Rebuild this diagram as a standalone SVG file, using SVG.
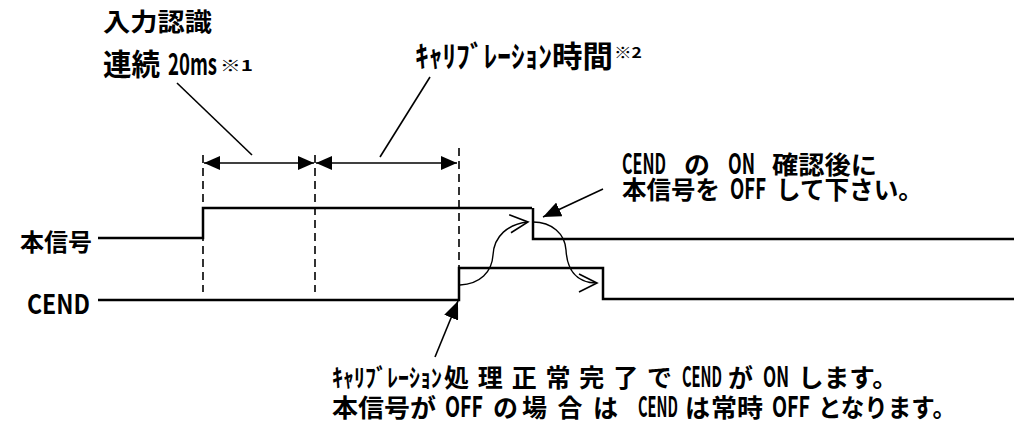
<svg xmlns="http://www.w3.org/2000/svg" width="1014" height="432" viewBox="0 0 1014 432">
<style>
.t{font-family:"Noto Sans CJK JP","Liberation Sans",sans-serif;font-weight:700;fill:#000}
.a{font-size:28px}
.sig{fill:none;stroke:#000;stroke-width:2.5;stroke-linejoin:miter}
.dash{fill:none;stroke:#000;stroke-width:1.6;stroke-dasharray:8 5}
.ln{fill:none;stroke:#000;stroke-width:1.6}
.cv{fill:none;stroke:#000;stroke-width:1.4}
</style>
<defs>
<marker id="fa" markerUnits="userSpaceOnUse" markerWidth="16" markerHeight="14" refX="16" refY="7" orient="auto-start-reverse">
<path d="M0,0 L16,7 L0,14 z" fill="#000"/>
</marker>
<marker id="fb" markerUnits="userSpaceOnUse" markerWidth="18" markerHeight="15" refX="18" refY="7.5" orient="auto">
<path d="M0,0 L18,7.5 L0,15 z" fill="#000"/>
</marker>
<marker id="oa" markerUnits="userSpaceOnUse" markerWidth="22" markerHeight="22" refX="19" refY="10" orient="auto">
<path d="M1,1 L19,10 L1,19" fill="none" stroke="#000" stroke-width="1.6"/>
</marker>
</defs>
<rect width="1014" height="432" fill="#fff"/>

<g id="label-input">
<text class="t" x="103" y="31" font-size="25" textLength="109" lengthAdjust="spacingAndGlyphs">入力認識</text>
</g>
<g id="label-20ms">
<text class="t" y="75" font-size="30"><tspan x="103" textLength="57" lengthAdjust="spacingAndGlyphs">連続</tspan><tspan x="168" textLength="49" lengthAdjust="spacingAndGlyphs">20ms</tspan><tspan x="220" y="71" font-size="15" textLength="33" lengthAdjust="spacingAndGlyphs">※1</tspan></text>
</g>
<g id="label-calib">
<text class="t" y="67" font-size="30"><tspan x="415" textLength="137" lengthAdjust="spacingAndGlyphs">ｷｬﾘﾌﾞﾚｰｼｮﾝ</tspan><tspan x="552" textLength="61" lengthAdjust="spacingAndGlyphs">時間</tspan><tspan x="614" y="58" font-size="15" textLength="28" lengthAdjust="spacingAndGlyphs">※2</tspan></text>
</g>
<g id="label-note-top">
<text class="t" y="174" font-size="25"><tspan class="a" x="622" textLength="44" lengthAdjust="spacingAndGlyphs">CEND</tspan><tspan x="684" textLength="26" lengthAdjust="spacingAndGlyphs">の</tspan><tspan class="a" x="728" textLength="27" lengthAdjust="spacingAndGlyphs">ON</tspan><tspan x="772" textLength="105" lengthAdjust="spacingAndGlyphs">確認後に</tspan></text>
<text class="t" y="199" font-size="25"><tspan x="622" textLength="98" lengthAdjust="spacingAndGlyphs">本信号を</tspan><tspan class="a" x="730" textLength="36" lengthAdjust="spacingAndGlyphs">OFF</tspan><tspan x="776" textLength="147" lengthAdjust="spacingAndGlyphs">して下さい。</tspan></text>
</g>
<g id="label-note-bottom">
<text class="t" y="387" font-size="25"><tspan x="332" textLength="110" lengthAdjust="spacingAndGlyphs">ｷｬﾘﾌﾞﾚｰｼｮﾝ</tspan><tspan x="444" textLength="228" lengthAdjust="spacing">処理正常完了で</tspan><tspan class="a" x="682" textLength="40" lengthAdjust="spacingAndGlyphs">CEND</tspan><tspan x="728" textLength="25" lengthAdjust="spacingAndGlyphs">が</tspan><tspan class="a" x="763" textLength="26" lengthAdjust="spacingAndGlyphs">ON</tspan><tspan x="798" textLength="100" lengthAdjust="spacingAndGlyphs">します。</tspan></text>
<text class="t" y="417" font-size="25"><tspan x="332" textLength="104" lengthAdjust="spacingAndGlyphs">本信号が</tspan><tspan class="a" x="445" textLength="38" lengthAdjust="spacingAndGlyphs">OFF</tspan><tspan x="493" textLength="25" lengthAdjust="spacingAndGlyphs">の</tspan><tspan x="522" textLength="96" lengthAdjust="spacing">場合は</tspan><tspan class="a" x="638" textLength="40" lengthAdjust="spacingAndGlyphs">CEND</tspan><tspan x="685" textLength="25" lengthAdjust="spacingAndGlyphs">は</tspan><tspan x="711" textLength="52" lengthAdjust="spacingAndGlyphs">常時</tspan><tspan class="a" x="772" textLength="38" lengthAdjust="spacingAndGlyphs">OFF</tspan><tspan x="818" textLength="138" lengthAdjust="spacingAndGlyphs">となります。</tspan></text>
</g>

<g id="signal-main">
<text class="t" x="20" y="251" font-size="24" textLength="72" lengthAdjust="spacingAndGlyphs">本信号</text>
<polyline class="sig" points="98,238 203,238 203,208 532,208"/>
<polyline class="sig" points="533,208 533,239 1014,239"/>
</g>
<g id="signal-cend">
<text class="t" x="27" y="314" font-size="27" textLength="63" lengthAdjust="spacingAndGlyphs">CEND</text>
<polyline class="sig" points="98,300 459,300 459,268 603,268 603,299 1014,299"/>
</g>

<g id="guides">
<line class="dash" x1="203" y1="155" x2="203" y2="292"/>
<line class="dash" x1="315" y1="155" x2="315" y2="292"/>
<line class="dash" x1="459" y1="148" x2="459" y2="268"/>
</g>

<g id="connectors">
<line class="ln" x1="204" y1="163" x2="314" y2="163" marker-start="url(#fa)" marker-end="url(#fa)"/>
<line class="ln" x1="316" y1="163" x2="457" y2="163" marker-start="url(#fa)" marker-end="url(#fa)"/>
<line class="ln" x1="177" y1="83" x2="252" y2="155"/>
<line class="ln" x1="430" y1="77" x2="380" y2="157"/>
<line class="ln" x1="603" y1="189" x2="543" y2="217" marker-end="url(#fb)"/>
<line class="ln" x1="435" y1="357" x2="458" y2="301" marker-end="url(#fb)"/>
<path class="cv" d="M460,285 C480,284 492,272 493,255 C494,236 508,224 528,222" marker-end="url(#oa)"/>
<path class="cv" d="M533,222 C552,222 565,234 566,250 C567,268 575,283 597,283" marker-end="url(#oa)"/>
</g>
</svg>
